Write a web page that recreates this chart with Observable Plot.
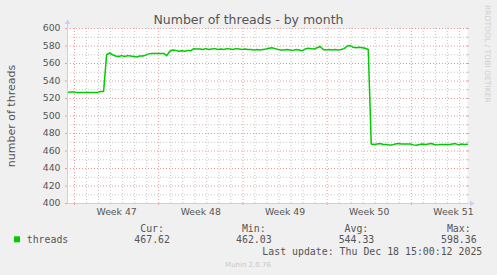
<!DOCTYPE html>
<html><head><meta charset="utf-8">
<script src="https://cdn.jsdelivr.net/npm/d3@7"></script>
<script src="https://cdn.jsdelivr.net/npm/@observablehq/plot@0.6"></script>
<style>
html,body{margin:0;padding:0;background:#f0f0f0;}
#chart{width:497px;height:275px;overflow:hidden;}
svg{display:block;}
</style></head><body><div id="chart"></div>
<script>
// ---- data (one sample every 6 hours, x in days from the left edge) ----
const stepDays = 0.25;
const threads = [
  527,527.5,527.5,527,527,527,527,527,527,527,527,528,528,
  570,572,570,568.5,568,569,568,569,568.5,568,567.5,568.5,568.5,569.5,
  571,571.5,571.5,571.5,571.5,571.5,569,
  574,575.5,575,574,574.5,574,575,574.5,
  577,576.5,576.5,576,577,576,576.5,577,576,576.5,576,577,576.5,576,577,576.5,576,576.5,576,
  576,575.5,576,575.5,576,576.5,577.5,578,577,576,575.5,575.5,576,575.5,575,576,575.5,574.5,
  576.5,577.5,577,576.5,578,579.5,576,575.5,576,575.5,576,575.5,576,577,580,580.5,578.5,578,578.5,578,577.5,576,
  468,467.5,468,468.5,467.5,467.5,467,467,468,468.5,468,468,468,468,467,466.5,467.5,468,467.5,468,468.5,
  467.5,467,467.5,467.5,467.5,467.5,468,468.5,467,468,467.5,467.6
];
const xSpanDays = 33.25;
const firstWeekStartDay = 0.582;
const weekLabels = ["Week 47","Week 48","Week 49","Week 50","Week 51"];
const yTicks = [400,420,440,460,480,500,520,540,560,580,600];
const yMinorTicks = [410,430,450,470,490,510,530,550,570,590];
const titleText = "Number of threads - by month";
const yLabelText = "number of threads";
const seriesName = "threads";
const legendHeaders = ["Cur:","Min:","Avg:","Max:"];
const legendValues = ["467.62","462.03","544.33","598.36"];
const lastUpdateText = "Last update: Thu Dec 18 15:00:12 2025";
const footerText = "Munin 2.0.76";
const watermarkText = "RRDTOOL / TOBI OETIKER";

// ---- derived ----
const data = threads.map((v, i) => ({day: i * stepDays, v}));
const weekStarts = weekLabels.map((_, k) => firstWeekStartDay + 7 * k);
const weekCenters = weekStarts.map(d => d + 3.5);
const labelByCenter = new Map(weekCenters.map((c, i) => [c, weekLabels[i]]));
const dayLines = d3.range(0, 40).filter(k => k % 7 !== 0).map(k => firstWeekStartDay + k).filter(d => d < xSpanDays);

const GREEN = "#00cc00";
const MGRID = "#e89c9c";
const GRID = "#c6c6c6";
const AXIS = "#c9cdf7";
const pxDay = xSpanDays / 400;   // days per pixel
const pxVal = 200 / 175;         // value units per pixel

const chart = Plot.plot({
  width: 497, height: 275,
  marginLeft: 67, marginRight: 30, marginTop: 28, marginBottom: 72,
  style: {background: "transparent", fontFamily: "'DejaVu Sans', sans-serif", fontSize: "9.3px", color: "#555", overflow: "visible"},
  x: {type: "linear", domain: [0, xSpanDays], axis: null},
  y: {domain: [400, 600], axis: null},
  marks: [
    Plot.frame({fill: "white", stroke: null}),
    Plot.ruleY(yMinorTicks, {stroke: GRID, strokeDasharray: "1,2"}),
    Plot.ruleX(dayLines, {stroke: GRID, strokeDasharray: "1,2"}),
    Plot.ruleY(yTicks, {stroke: MGRID, strokeDasharray: "1,2"}),
    Plot.ruleX(weekStarts, {stroke: MGRID, strokeDasharray: "1,2"}),
    // small solid tick ends of grid lines
    Plot.ruleY(yMinorTicks, {x1: xSpanDays, x2: xSpanDays + 2 * pxDay, stroke: GRID}),
    Plot.ruleY(yTicks, {x1: xSpanDays, x2: xSpanDays + 2 * pxDay, stroke: MGRID}),
    Plot.ruleY(yTicks, {x1: -2 * pxDay, x2: 0, stroke: MGRID}),
    Plot.ruleX(weekStarts, {y1: 400 - 2 * pxVal, y2: 400, stroke: MGRID}),
    // data line
    Plot.line(data, {x: "day", y: "v", stroke: GREEN, strokeWidth: 1.5}),
    // axes lines and arrows
    Plot.ruleX([0], {y1: 400, y2: 600 + 4 * pxVal, stroke: AXIS}),
    Plot.ruleY([400], {x1: 0, x2: xSpanDays + 2 * pxDay, stroke: AXIS}),
    Plot.dot([0], {x: d => d, y: 600 + 6 * pxVal, symbol: "triangle", r: 2, fill: AXIS, stroke: null}),
    Plot.dot([400], {x: xSpanDays + 4 * pxDay, y: d => d, symbol: "triangle", r: 2, rotate: 90, fill: AXIS, stroke: null}),
    Plot.axisY(yTicks, {tickSize: 0, tickPadding: 7, label: null, fontSize: 9.3}),
    Plot.axisX(weekCenters, {tickSize: 0, tickPadding: 5, label: null, fontSize: 9.3, tickFormat: d => labelByCenter.get(d)})
  ]
});

const svg = d3.select(chart);
const g = svg.append("g").attr("font-family", "'DejaVu Sans', sans-serif");
g.append("text").attr("x", 248.5).attr("y", 23.5).attr("text-anchor", "middle")
  .attr("font-size", "12.5px").attr("fill", "#555").text(titleText);
g.append("text").attr("transform", "translate(15,116) rotate(-90)").attr("text-anchor", "middle")
  .attr("font-size", "11px").attr("fill", "#555").text(yLabelText);
g.append("text").attr("transform", "translate(485,5) rotate(90)").attr("text-anchor", "start")
  .attr("font-size", "7.6px").attr("fill", "#cfcfcf").text(watermarkText);
g.append("text").attr("x", 248).attr("y", 267).attr("text-anchor", "middle")
  .attr("font-size", "7px").attr("fill", "#c8c8c8").text(footerText);

const mono = svg.append("g").attr("font-family", "'DejaVu Sans Mono', monospace").attr("font-size", "9.9px").attr("fill", "#555");
const valueRight = [170, 271.7, 374.3, 476.7];
legendHeaders.forEach((h, i) => {
  mono.append("text").attr("x", valueRight[i] - 6).attr("y", 231.5).attr("text-anchor", "end").text(h);
});
legendValues.forEach((v, i) => {
  mono.append("text").attr("x", valueRight[i]).attr("y", 243.2).attr("text-anchor", "end").text(v);
});
mono.append("rect").attr("x", 14).attr("y", 236.3).attr("width", 6).attr("height", 6).attr("fill", GREEN);
mono.append("text").attr("x", 26.7).attr("y", 243.2).attr("text-anchor", "start").text(seriesName);
mono.append("text").attr("x", 482.3).attr("y", 254.8).attr("text-anchor", "end").text(lastUpdateText);

document.getElementById("chart").appendChild(chart);
</script>
</body></html>
